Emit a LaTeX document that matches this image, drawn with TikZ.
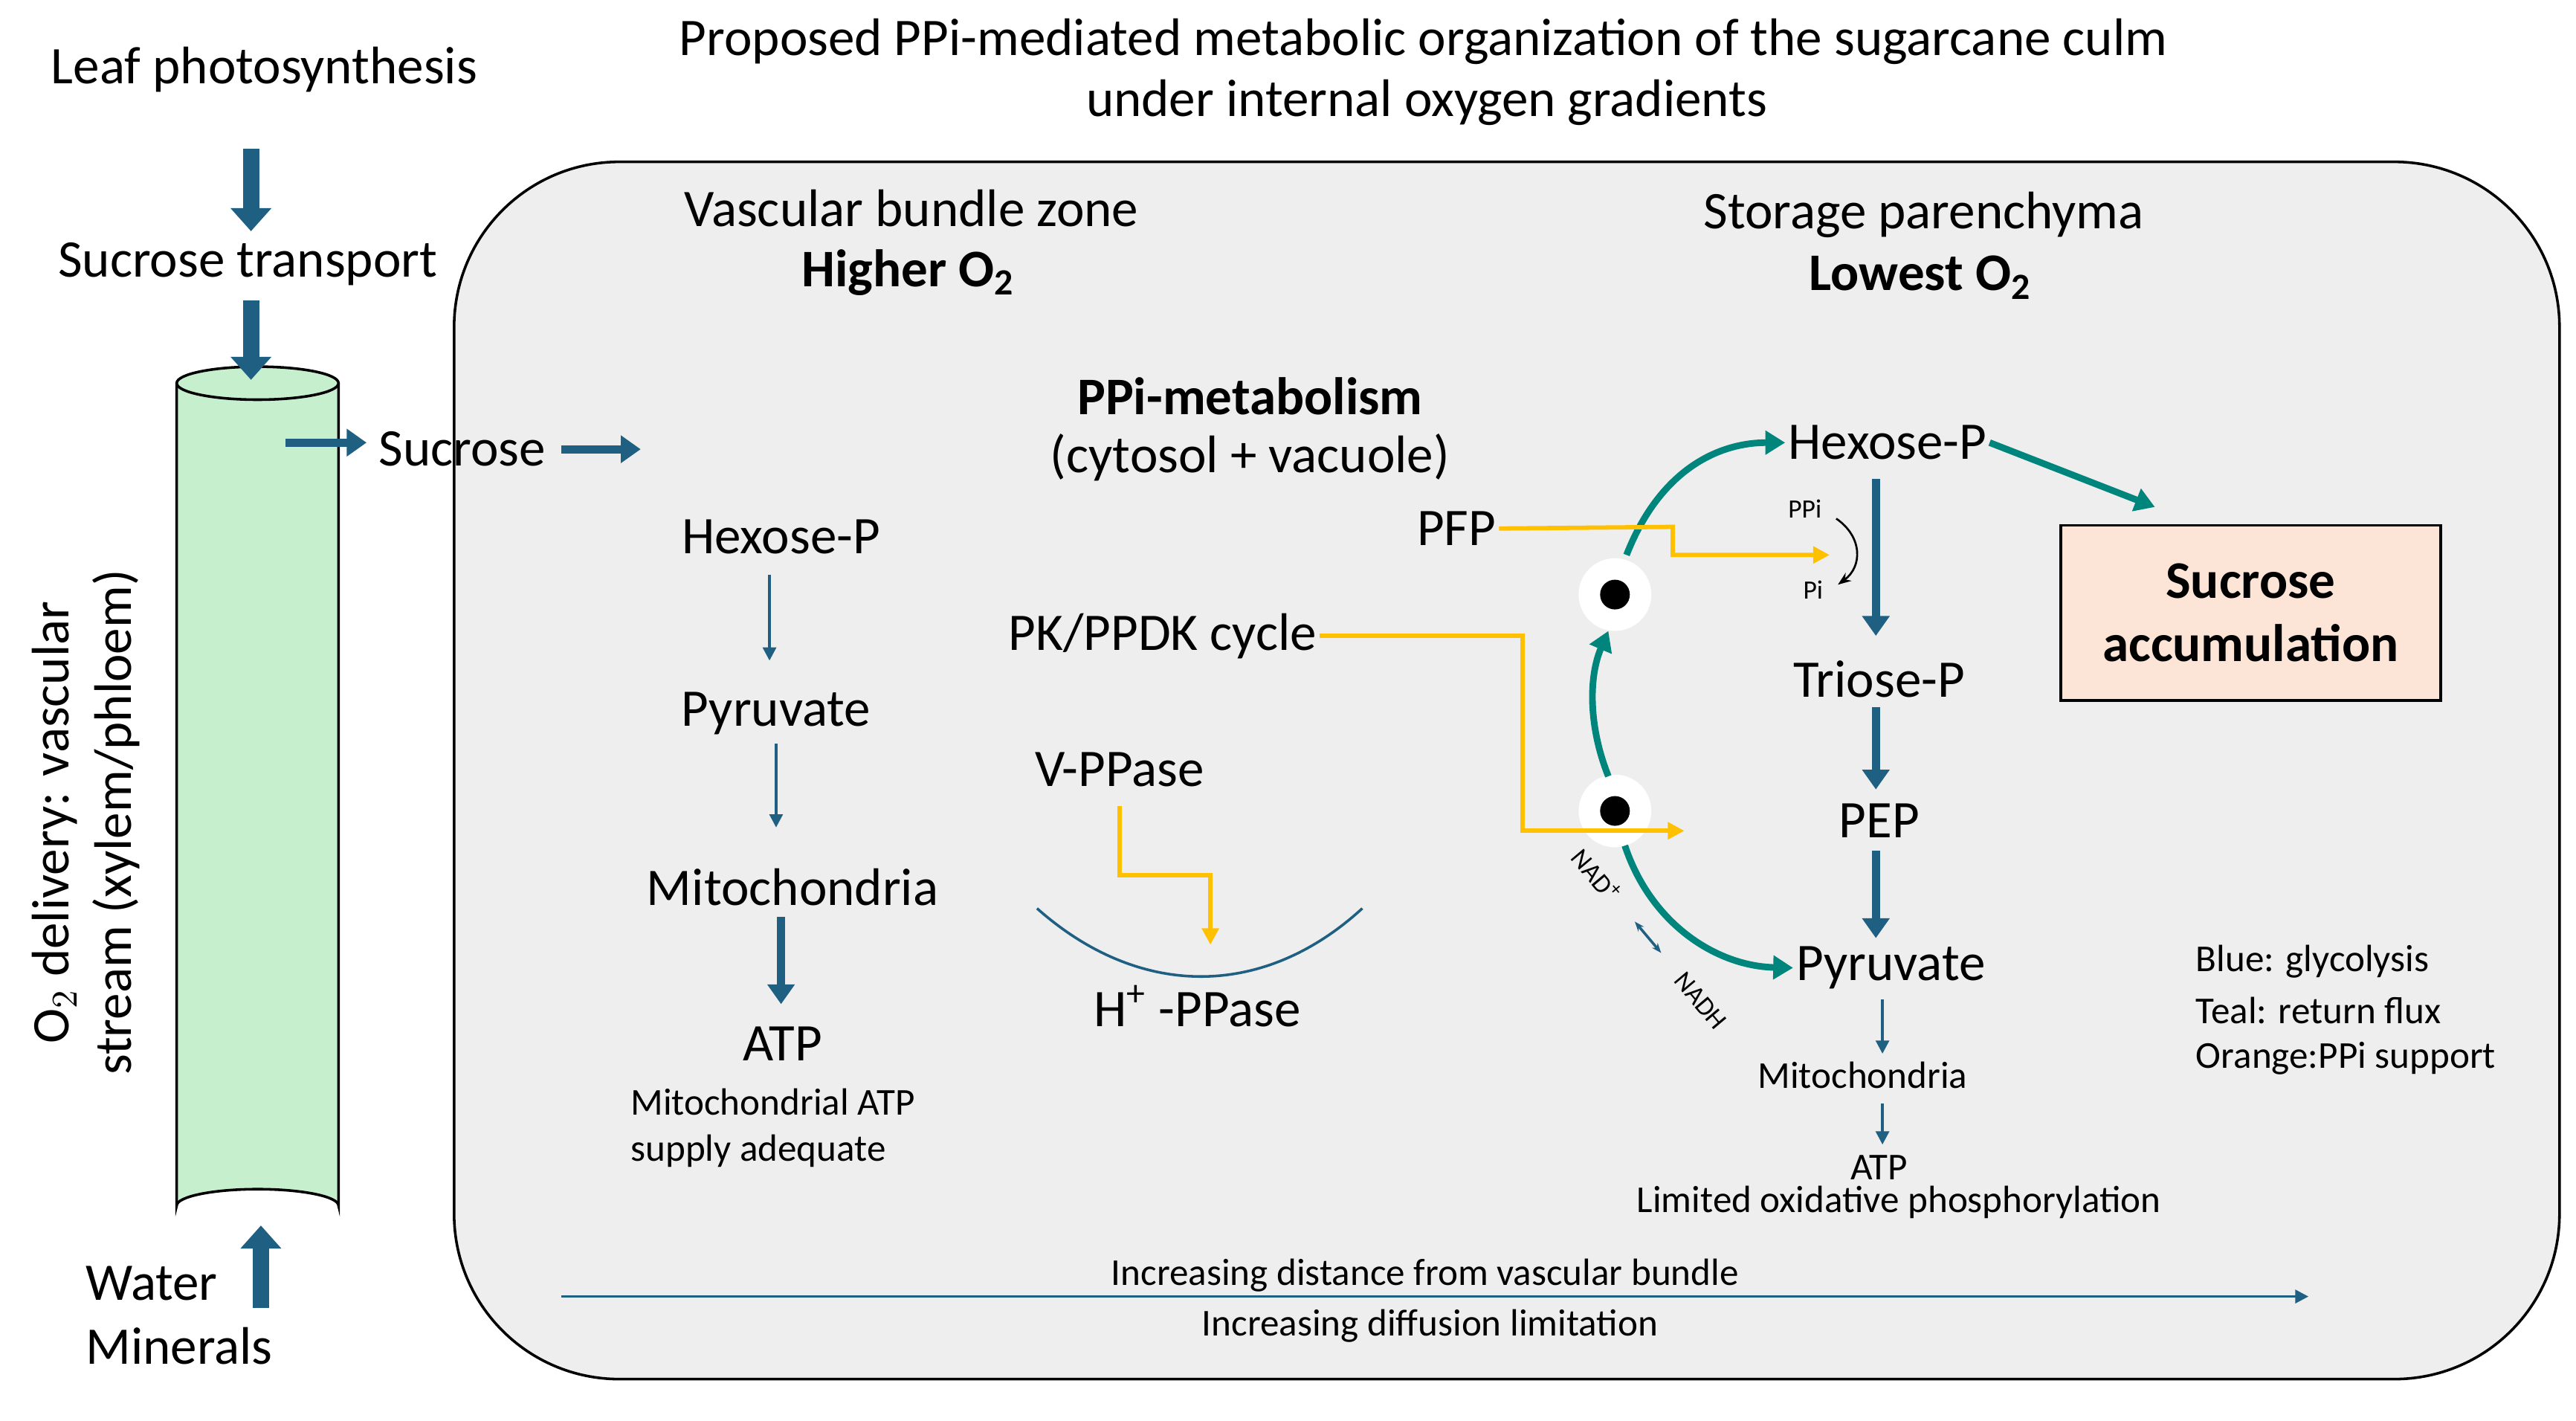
\documentclass[tikz,border=0pt]{standalone}
\usepackage{fontspec}
\setmainfont{Carlito}
\usetikzlibrary{arrows.meta,shapes.geometric}
\definecolor{gblue}{HTML}{1F6082}
\definecolor{gteal}{HTML}{00857D}
\definecolor{gorange}{HTML}{FFC000}
\definecolor{cylgreen}{HTML}{C6EFCE}
\definecolor{accpink}{HTML}{FCE4D6}
\tikzset{
  lbl/.style={inner sep=0.75pt,font=\fontsize{16}{19}\selectfont},
  sml/.style={inner sep=0.75pt,font=\fontsize{11.5}{14}\selectfont},
  tiny/.style={inner sep=0.75pt,font=\fontsize{8}{10}\selectfont},
  bigarr/.style={gblue,line width=5pt,-{Triangle[length=7pt,width=12pt]}},
  midarr/.style={gblue,line width=2.5pt,-{Triangle[length=6pt,width=8pt]}},
  thinarr/.style={gblue,line width=0.8pt,-{Triangle[length=4pt,width=4pt]}},
  orarr/.style={gorange,line width=1.3pt,-{Triangle[length=5pt,width=5pt]}},
  tlarr/.style={gteal,line width=2pt,-{Triangle[length=6pt,width=7pt]}},
  glow/.style={circle,fill=white,inner sep=0pt,minimum size=22pt},
  dot/.style={circle,fill=black,inner sep=0pt,minimum size=9pt}
}
\begin{document}
\begin{tikzpicture}[x=0.5pt,y=0.5pt,yscale=-1,xscale=1]
\useasboundingbox (0,0) rectangle (1560,860);

%Shape: Rounded Rect
\draw[line width=0.8pt,fill=gray!13,rounded corners=50pt] (275,98) rectangle (1550,835);

%Shape: Cylinder
\draw[fill=cylgreen,line width=0.8pt] (107,232) -- (107,730) arc[start angle=180,end angle=360,x radius=49,y radius=10] -- (205,232);
\draw[fill=cylgreen,line width=0.8pt] (156,232) ellipse[x radius=49,y radius=10];

% Text Node
\node[lbl] (title1) at (862,25) {Proposed PPi-mediated metabolic organization of the sugarcane culm};
\node[lbl] (title2) at (864,62) {under internal oxygen gradients};
\node[lbl] (leaf) at (160,42) {Leaf photosynthesis};
\node[lbl] (suctr) at (150,160) {Sucrose transport};
\node[lbl,rotate=90,align=center] (o2) at (52,498) {O$_2$ delivery: vascular\\stream (xylem/phloem)};
\node[lbl,anchor=west] (water) at (50,777) {Water};
\node[lbl,anchor=west] (miner) at (50,815) {Minerals};
\node[lbl] (sucin) at (280,272) {Sucrose};

\draw[bigarr] (152,90) -- (152,140);
\draw[bigarr] (152,182) -- (152,230);
\draw[bigarr] (158,792) -- (158,742);
\draw[midarr] (173,268) -- (222,268);
\draw[midarr] (340,272) -- (388,272);

% Text Node
\node[lbl] (vbz) at (552,126) {Vascular bundle zone};
\node[lbl] (higher) at (550,165) {\textbf{Higher O$_\mathbf{2}$}};
\node[lbl] (stp) at (1165,130) {Storage parenchyma};
\node[lbl] (lowest) at (1163,168) {\textbf{Lowest O$_\mathbf{2}$}};
\node[lbl] (ppim) at (757,240) {\textbf{PPi-metabolism}};
\node[lbl] (cyto) at (757,277) {(cytosol + vacuole)};

%Left column
\node[lbl] (lhex) at (473,325) {Hexose-P};
\node[lbl] (lpyr) at (470,432) {Pyruvate};
\node[lbl] (lmit) at (480,537) {Mitochondria};
\node[lbl] (latp) at (474,632) {ATP};
\node[sml,align=left] (lsup) at (468,683) {Mitochondrial ATP\\supply adequate};
\draw[thinarr] (466,348) -- (466,400);
\draw[thinarr] (470,450) -- (470,501);
\draw[midarr] (473,555) -- (473,608);

%Middle
\node[lbl] (pk) at (704,385) {PK/PPDK cycle};
\node[lbl] (vpp) at (678,466) {V-PPase};
\node[lbl] (hpp) at (725,609) {H\textsuperscript{+} -PPase};
\node[lbl] (pfp) at (882,320) {PFP};
\draw[gblue,line width=0.8pt] (628,550) .. controls (690,605) and (765,605) .. (825,550);
\draw[orarr] (678,488) -- (678,530) -- (733,530) -- (733,572);

%Right column
\node[lbl] (rhex) at (1143,268) {Hexose-P};
\node[lbl] (rtri) at (1138,411) {Triose-P};
\node[lbl] (rpep) at (1138,497) {PEP};
\node[lbl] (rpyr) at (1145,586) {Pyruvate};
\node[sml] (rmit) at (1128,651) {Mitochondria};
\node[sml] (ratp) at (1138,707) {ATP};
\node[sml] (lim) at (1150,728) {Limited oxidative phosphorylation};
\node[tiny] (ppi) at (1093,308) {PPi};
\node[tiny] (pi) at (1098,357) {Pi};
\draw[midarr] (1136,290) -- (1136,385);
\draw[midarr] (1136,428) -- (1136,478);
\draw[midarr] (1136,515) -- (1136,568);
\draw[thinarr] (1140,605) -- (1140,638);
\draw[thinarr] (1140,668) -- (1140,693);
\draw[-{Stealth[length=4pt]},line width=0.6pt] (1112,314) .. controls (1128,325) and (1128,343) .. (1113,354);

%Sucrose accumulation
\node[draw,fill=accpink,line width=0.8pt,minimum width=115pt,minimum height=53pt,align=center,lbl] (acc) at (1363,371) {\textbf{Sucrose}\\\textbf{accumulation}};

%Teal return flux
\node[glow] (g1) at (978,360) {};
\node[glow] (g2) at (978,491) {};
\node[dot] (c1) at (978,360) {};
\node[dot] (c2) at (978,491) {};
\draw[tlarr] (985,336) .. controls (1005,285) and (1040,268) .. (rhex.west);
\draw[tlarr] (rhex.east) -- (1305,307);
\draw[tlarr] (984,512) .. controls (1000,560) and (1040,585) .. (rpyr.west);
\draw[tlarr] (974,470) .. controls (962,440) and (962,410) .. (974,382);

%Orange PPi support
\draw[orarr] (pfp.east) -- (1013,319) -- (1013,336) -- (1108,336);
\draw[orarr] (pk.east) -- (922,385) -- (922,503) -- (1020,503);

%NAD
\node[tiny,rotate=-50] (nad) at (967,530) {NAD\textsuperscript{+}};
\node[tiny,rotate=-50] (nadh) at (1030,606) {NADH};
\draw[gblue,line width=0.8pt,{Stealth[length=3pt]}-{Stealth[length=3pt]}] (990,558) -- (1006,577);

%Legend
\node[sml,anchor=west] (leg1) at (1328,582) {Blue: glycolysis};
\node[sml,anchor=west] (leg2) at (1328,612) {Teal: return flux};
\node[sml,anchor=west] (leg3) at (1328,641) {Orange:PPi support};

%Bottom axis
\coordinate (ax1) at (340,785);
\coordinate (ax2) at (1398,785);
\draw[thinarr] (ax1) -- (ax2);
\node[sml] (dist) at (863,772) {Increasing distance from vascular bundle};
\node[sml] (diff) at (866,803) {Increasing diffusion limitation};
\end{tikzpicture}
\end{document}
